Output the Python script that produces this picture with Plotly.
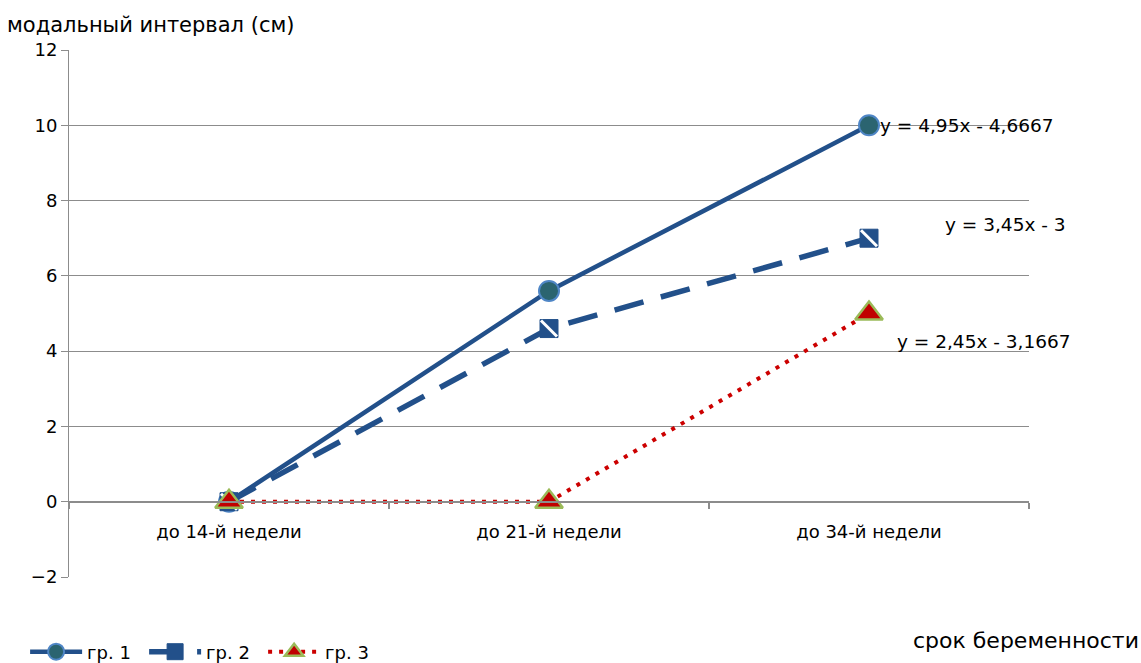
import plotly.graph_objects as go

# Срок беременности (категории) и модальный интервал по группам, см
categories = ["до 14-й недели", "до 21-й недели", "до 34-й недели"]
gr1 = [0, 5.6, 10]
gr2 = [0, 4.6, 7]
gr3 = [0, 0, 5]
series_names = ["гр. 1", "гр. 2", "гр. 3"]
trend_labels = ["y = 4,95x - 4,6667", "y = 3,45x - 3", "y = 2,45x - 3,1667"]

FONT = "DejaVu Sans"
BLUE = "#22508a"
RED = "#cc0000"
GRID = "#8c8c8c"

fig = go.Figure()

# гр. 1 — сплошная линия, круглые маркеры
fig.add_trace(go.Scatter(
    x=categories, y=gr1, name=series_names[0], mode="lines+markers",
    line=dict(color=BLUE, width=4.5),
    marker=dict(symbol="circle", size=20, color="#2b6470",
                line=dict(color="#4f86c6", width=2)),
))

# гр. 2 — штриховая линия, квадратные маркеры со штриховкой
fig.add_trace(go.Scatter(
    x=categories, y=gr2, name=series_names[1], mode="lines+markers",
    line=dict(color=BLUE, width=5.5, dash="30px,18px"),
    marker=dict(symbol="square", size=18, color=BLUE,
                line=dict(color=BLUE, width=1)),
))
fig.add_trace(go.Scatter(
    x=categories, y=gr2, mode="markers", showlegend=False, hoverinfo="skip",
    marker=dict(symbol="line-nw", size=16, color="white",
                line=dict(color="white", width=3)),
))

# гр. 3 — пунктирная линия, треугольные маркеры
fig.add_trace(go.Scatter(
    x=categories, y=gr3, name=series_names[2], mode="lines+markers",
    line=dict(color=RED, width=4, dash="4px,7px"),
    marker=dict(symbol="triangle-up", size=24, color="#c00000",
                line=dict(color="#9bbb59", width=2.5)),
))

# Уравнения линий тренда у последних точек
last_vals = [gr1[-1], gr2[-1], gr3[-1]]
shifts = [(9, 0), (74, 14), (26, -28)]
for label, yv, (dx, dy) in zip(trend_labels, last_vals, shifts):
    fig.add_annotation(
        x=categories[-1], y=yv, xref="x", yref="y", text=label,
        showarrow=False, xanchor="left", yanchor="middle",
        xshift=dx, yshift=dy, font=dict(family=FONT, size=18.5, color="#000000"),
    )

# Подписи осей
fig.add_annotation(
    x=-64 / 960, y=1 + 25 / 527, xref="paper", yref="paper",
    text="модальный интервал (см)", showarrow=False,
    xanchor="left", yanchor="middle",
    font=dict(family=FONT, size=21, color="#000000"),
)
fig.add_annotation(
    x=1 + 112 / 960, y=-63 / 527, xref="paper", yref="paper",
    text="срок беременности", showarrow=False,
    xanchor="right", yanchor="middle",
    font=dict(family=FONT, size=22, color="#000000"),
)

fig.update_layout(
    width=1141, height=663,
    margin=dict(l=69, r=112, t=50, b=86, autoexpand=False),
    plot_bgcolor="white", paper_bgcolor="white",
    font=dict(family=FONT, size=18, color="#000000"),
    showlegend=True,
    legend=dict(orientation="h", x=0.022, y=11 / 663, xref="container",
                yref="container", xanchor="left", yanchor="middle",
                font=dict(family=FONT, size=18), tracegroupgap=0,
                itemwidth=52, entrywidth=52),
    xaxis=dict(
        type="category", anchor="free", position=2 / 14, automargin=False,
        showline=True, linecolor=GRID, linewidth=2,
        ticks="outside", tickson="boundaries", ticklen=6, tickcolor=GRID,
        tickwidth=2, showgrid=False, zeroline=False, ticklabelstandoff=14,
        tickfont=dict(family=FONT, size=18), range=[-0.5, 2.5],
    ),
    yaxis=dict(
        range=[-2, 12], dtick=2, showgrid=True, gridcolor=GRID, gridwidth=1,
        zeroline=True, zerolinecolor=GRID, zerolinewidth=2, automargin=False,
        showline=True, linecolor=GRID, linewidth=1,
        ticks="outside", ticklen=7, tickcolor=GRID,
        tickfont=dict(family=FONT, size=18),
    ),
)

fig.write_html("out.html")
